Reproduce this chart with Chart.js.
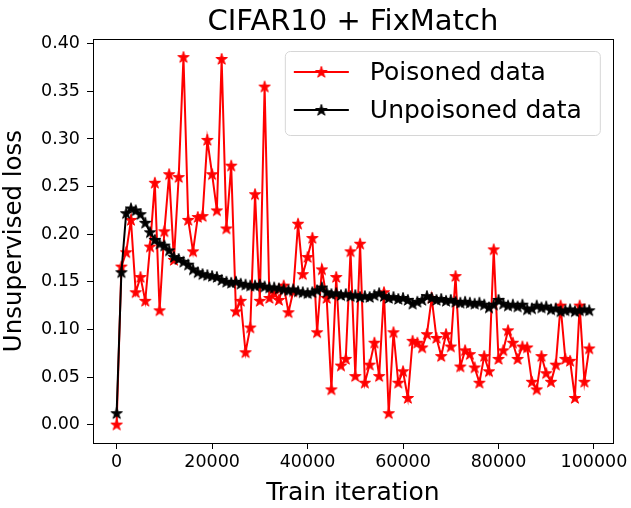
<!DOCTYPE html>
<html>
<head>
<meta charset="utf-8">
<script src="https://cdn.jsdelivr.net/npm/chart.js@4.4.0/dist/chart.umd.min.js"></script>
<style>
  html, body { margin: 0; padding: 0; background: #fff; }
  #wrap { width: 631px; height: 508px; }
</style>
</head>
<body>
<div id="wrap"><canvas id="myChart" width="631" height="508"></canvas></div>
<script>
const titulo = 'CIFAR10 + FixMatch';
const etiquetaX = 'Train iteration';
const etiquetaY = 'Unsupervised loss';
const nombresSeries = ['Poisoned data', 'Unpoisoned data'];

const iteraciones = [
    0, 1000, 2000, 3000, 4000, 5000, 6000, 7000, 8000, 9000,
    10000, 11000, 12000, 13000, 14000, 15000, 16000, 17000, 18000, 19000,
    20000, 21000, 22000, 23000, 24000, 25000, 26000, 27000, 28000, 29000,
    30000, 31000, 32000, 33000, 34000, 35000, 36000, 37000, 38000, 39000,
    40000, 41000, 42000, 43000, 44000, 45000, 46000, 47000, 48000, 49000,
    50000, 51000, 52000, 53000, 54000, 55000, 56000, 57000, 58000, 59000,
    60000, 61000, 62000, 63000, 64000, 65000, 66000, 67000, 68000, 69000,
    70000, 71000, 72000, 73000, 74000, 75000, 76000, 77000, 78000, 79000,
    80000, 81000, 82000, 83000, 84000, 85000, 86000, 87000, 88000, 89000,
    90000, 91000, 92000, 93000, 94000, 95000, 96000, 97000, 98000, 99000
];

const perdidaEnvenenada = [
    0.000, 0.166, 0.181, 0.215, 0.139, 0.155, 0.130, 0.187, 0.254, 0.120,
    0.203, 0.263, 0.173, 0.260, 0.386, 0.215, 0.182, 0.218, 0.219, 0.299,
    0.263, 0.225, 0.384, 0.206, 0.272, 0.119, 0.130, 0.076, 0.102, 0.242,
    0.130, 0.355, 0.133, 0.138, 0.131, 0.146, 0.118, 0.140, 0.211, 0.158,
    0.176, 0.196, 0.097, 0.163, 0.133, 0.037, 0.155, 0.062, 0.069, 0.182,
    0.051, 0.190, 0.044, 0.063, 0.086, 0.051, 0.139, 0.012, 0.097, 0.044,
    0.056, 0.028, 0.088, 0.086, 0.081, 0.095, 0.133, 0.091, 0.072, 0.095,
    0.082, 0.156, 0.061, 0.078, 0.074, 0.060, 0.044, 0.072, 0.056, 0.184,
    0.069, 0.078, 0.099, 0.086, 0.069, 0.082, 0.081, 0.045, 0.037, 0.072,
    0.054, 0.045, 0.063, 0.125, 0.069, 0.067, 0.028, 0.125, 0.045, 0.080
];

const perdidaLimpia = [
    0.012, 0.160, 0.222, 0.227, 0.225, 0.221, 0.212, 0.202, 0.194, 0.190,
    0.188, 0.183, 0.176, 0.174, 0.171, 0.168, 0.163, 0.160, 0.158, 0.157,
    0.156, 0.155, 0.152, 0.150, 0.149, 0.150, 0.148, 0.147, 0.146, 0.146,
    0.147, 0.145, 0.144, 0.144, 0.143, 0.142, 0.141, 0.142, 0.140, 0.139,
    0.138, 0.139, 0.141, 0.144, 0.139, 0.137, 0.138, 0.136, 0.137, 0.135,
    0.136, 0.134, 0.135, 0.134, 0.136, 0.138, 0.135, 0.133, 0.134, 0.132,
    0.133, 0.131, 0.127, 0.129, 0.131, 0.135, 0.133, 0.131, 0.132, 0.130,
    0.131, 0.129, 0.128, 0.129, 0.128, 0.127, 0.128, 0.126, 0.123, 0.126,
    0.131, 0.127, 0.125, 0.126, 0.124, 0.126, 0.121, 0.122, 0.125, 0.123,
    0.124, 0.121, 0.122, 0.119, 0.120, 0.121, 0.119, 0.120, 0.121, 0.120
];

const ticksX = [0, 20000, 40000, 60000, 80000, 100000];
const ticksY = [0.00, 0.05, 0.10, 0.15, 0.20, 0.25, 0.30, 0.35, 0.40];

const fuente = 'DejaVu Sans';

// estrella rellena tipo marcador '*' de matplotlib
function crearEstrella(color, tam) {
    const c = document.createElement('canvas');
    c.width = tam;
    c.height = tam;
    const g = c.getContext('2d');
    const cx = tam / 2, cy = tam / 2 + 0.4;
    const rExt = tam / 2 - 1;
    const rInt = rExt * 0.382;
    g.beginPath();
    for (let k = 0; k < 10; k++) {
        const r = k % 2 === 0 ? rExt : rInt;
        const ang = -Math.PI / 2 + k * Math.PI / 5;
        const px = cx + r * Math.cos(ang);
        const py = cy + r * Math.sin(ang);
        if (k === 0) g.moveTo(px, py); else g.lineTo(px, py);
    }
    g.closePath();
    g.fillStyle = color;
    g.fill();
    g.strokeStyle = color;
    g.lineWidth = 1;
    g.lineJoin = 'miter';
    g.stroke();
    return c;
}

const estrellaRoja = crearEstrella('#ff0000', 14);
const estrellaNegra = crearEstrella('#000000', 14);

function aPuntos(valores) {
    return iteraciones.map((it, i) => ({ x: it, y: valores[i] }));
}

const adornos = {
    id: 'adornos',
    afterDraw(chart) {
        const { ctx, chartArea } = chart;
        ctx.save();
        // marco de los ejes
        ctx.strokeStyle = '#000';
        ctx.lineWidth = 1;
        ctx.strokeRect(Math.round(chartArea.left) + 0.5, Math.round(chartArea.top) + 0.5,
            Math.round(chartArea.right - chartArea.left), Math.round(chartArea.bottom - chartArea.top));

        // titulo
        ctx.fillStyle = '#000';
        ctx.font = `29px "${fuente}"`;
        ctx.textAlign = 'center';
        ctx.textBaseline = 'alphabetic';
        ctx.fillText(titulo, (chartArea.left + chartArea.right) / 2, 30);

        // leyenda
        const lx = chartArea.right - 13, ly = chartArea.top + 12;
        const w = 315, h = 84;
        const x0 = lx - w, y0 = ly;
        ctx.beginPath();
        ctx.roundRect(x0 + 0.5, y0 + 0.5, w, h, 5);
        ctx.fillStyle = 'rgba(255,255,255,0.8)';
        ctx.fill();
        ctx.strokeStyle = '#d6d6d6';
        ctx.lineWidth = 1;
        ctx.stroke();

        const filas = [
            { y: y0 + 21, color: '#ff0000', img: estrellaRoja },
            { y: y0 + 59, color: '#000000', img: estrellaNegra }
        ];
        ctx.font = `25px "${fuente}"`;
        ctx.textAlign = 'left';
        ctx.textBaseline = 'middle';
        filas.forEach((f, i) => {
            ctx.strokeStyle = f.color;
            ctx.lineWidth = 2;
            ctx.beginPath();
            ctx.moveTo(x0 + 9, f.y);
            ctx.lineTo(x0 + 64, f.y);
            ctx.stroke();
            ctx.drawImage(f.img, x0 + 36.5 - 7, f.y - 7);
            ctx.fillStyle = '#000';
            ctx.fillText(nombresSeries[i], x0 + 85, f.y + 1);
        });
        ctx.restore();
    }
};

const ctx = document.getElementById('myChart').getContext('2d');

const chart = new Chart(ctx, {
    type: 'line',
    data: {
        datasets: [
            {
                label: nombresSeries[0],
                data: aPuntos(perdidaEnvenenada),
                borderColor: '#ff0000',
                backgroundColor: '#ff0000',
                borderWidth: 2,
                pointStyle: estrellaRoja,
                pointRadius: 6,
                tension: 0,
                fill: false,
                order: 2
            },
            {
                label: nombresSeries[1],
                data: aPuntos(perdidaLimpia),
                borderColor: '#000000',
                backgroundColor: '#000000',
                borderWidth: 2,
                pointStyle: estrellaNegra,
                pointRadius: 6,
                tension: 0,
                fill: false,
                order: 1
            }
        ]
    },
    options: {
        responsive: false,
        animation: false,
        layout: {
            padding: { top: 39, right: 17, left: 0, bottom: 0 }
        },
        plugins: {
            legend: { display: false },
            title: { display: false },
            tooltip: { enabled: false }
        },
        scales: {
            x: {
                type: 'linear',
                min: -4950,
                max: 103950,
                afterFit: (s) => { s.height = 65; },
                afterBuildTicks: (s) => { s.ticks = ticksX.map(v => ({ value: v })); },
                grid: {
                    drawOnChartArea: false,
                    drawTicks: true,
                    tickLength: 6,
                    color: '#000',
                    tickColor: '#000'
                },
                border: { display: true, color: '#000' },
                ticks: {
                    color: '#000',
                    font: { family: fuente, size: 17.5 },
                    padding: 3,
                    maxRotation: 0,
                    includeBounds: false,
                    callback: (v) => String(v)
                },
                title: {
                    display: true,
                    text: etiquetaX,
                    color: '#000',
                    font: { family: fuente, size: 25 },
                    padding: { top: 0, bottom: 0 }
                }
            },
            y: {
                type: 'linear',
                min: -0.0193,
                max: 0.405,
                afterFit: (s) => { s.width = 93; },
                afterBuildTicks: (s) => { s.ticks = ticksY.map(v => ({ value: v })); },
                grid: {
                    drawOnChartArea: false,
                    drawTicks: true,
                    tickLength: 6,
                    color: '#000',
                    tickColor: '#000'
                },
                border: { display: true, color: '#000' },
                ticks: {
                    color: '#000',
                    font: { family: fuente, size: 17.5 },
                    padding: 7,
                    includeBounds: false,
                    callback: (v) => v.toFixed(2)
                },
                title: {
                    display: true,
                    text: etiquetaY,
                    color: '#000',
                    font: { family: fuente, size: 24.5 },
                    padding: { top: 0, bottom: 0 }
                }
            }
        }
    },
    plugins: [adornos]
});
</script>
</body>
</html>
